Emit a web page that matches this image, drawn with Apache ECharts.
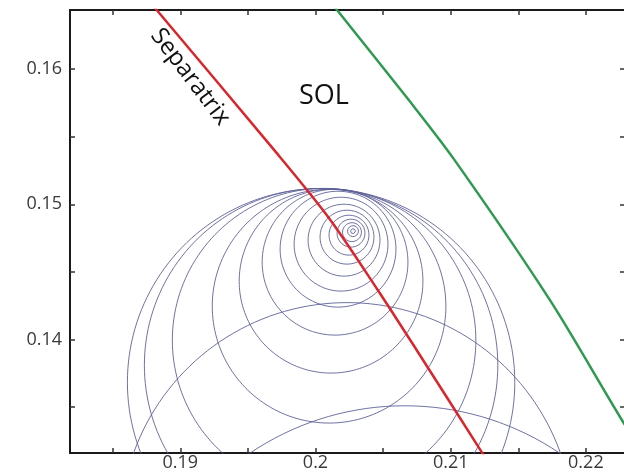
<!DOCTYPE html>
<html>
<head>
<meta charset="utf-8">
<script src="https://cdn.jsdelivr.net/npm/echarts@6/dist/echarts.min.js"></script>
<style>
html,body{margin:0;padding:0;background:#fff;}
#chart{width:624px;height:473px;}
</style>
</head>
<body>
<div id="chart"></div>
<script>
// Axis ticks and labels
const xTicks = [0.185, 0.19, 0.195, 0.2, 0.205, 0.21, 0.215, 0.22];
const xLabels = [0.19, 0.2, 0.21, 0.22];
const yTicks = [0.135, 0.14, 0.145, 0.15, 0.155, 0.16];
const yLabels = [0.14, 0.15, 0.16];

// Separatrix (red) and outer flux surface (green) traces
const sepX = [0.18700, 0.188253, 0.196950, 0.201004, 0.204616, 0.207490, 0.212355, 0.213166];
const sepY = [0.16585, 0.164366, 0.154007, 0.148975, 0.143648, 0.139208, 0.131587, 0.130329];
const wallX = [0.200414, 0.201594, 0.206901, 0.210291, 0.217345, 0.222674, 0.224591];
const wallY = [0.16585, 0.164366, 0.157706, 0.153267, 0.142908, 0.134029, 0.131069];

// Orbit circles: centre x, centre y, radius (data units)
const orbitCX = [0.202773, 0.202773, 0.202699, 0.202626, 0.202478, 0.202331, 0.202110, 0.201889, 0.201667, 0.201446, 0.201151, 0.201004, 0.200636, 0.200414, 0.200414, 0.202331, 0.206606];
const orbitCY = [0.148013, 0.148013, 0.147939, 0.147865, 0.147717, 0.147569, 0.147347, 0.147051, 0.146681, 0.145719, 0.144314, 0.142464, 0.139948, 0.136840, 0.138098, 0.125964, 0.114606];
const orbitR  = [0.000185, 0.000406, 0.000702, 0.001034, 0.001477, 0.001994, 0.002659, 0.003471, 0.004284, 0.005391, 0.006795, 0.008641, 0.011226, 0.014328, 0.013072, 0.016765, 0.020495];

function zip(a, b) { return a.map((v, i) => [v, b[i]]); }
function circlePts(cx, cy, r) {
  const pts = [];
  const n = 180;
  for (let k = 0; k <= n; k++) {
    const t = 2 * Math.PI * k / n;
    pts.push([cx + r * Math.cos(t), cy + r * Math.sin(t)]);
  }
  return pts;
}

const xMin = 0.18184, xMax = 0.22282;
const yMin = 0.131609, yMax = 0.164366;

const axisLine = { show: true, lineStyle: { color: '#1a1a1a', width: 2 } };
const tickStyle = { color: '#333', width: 1.5 };
const labelFont = { fontFamily: 'Open Sans', fontSize: 18, color: '#3a3a3a' };

const series = [];
orbitR.forEach((r, i) => {
  series.push({
    type: 'line', data: circlePts(orbitCX[i], orbitCY[i], r),
    showSymbol: false, silent: true, clip: true,
    lineStyle: { color: '#5f6399', width: 1, opacity: 0.9 }, z: 2
  });
});
series.push({
  type: 'line', data: zip(sepX, sepY), smooth: 0.3, showSymbol: false, clip: true,
  lineStyle: { color: '#d8262c', width: 2.5 }, z: 5
});
series.push({
  type: 'line', data: zip(wallX, wallY), smooth: 0.3, showSymbol: false, clip: true,
  lineStyle: { color: '#2e9a50', width: 2.5 }, z: 5
});

const chart = echarts.init(document.getElementById('chart'), null, { renderer: 'canvas' });
chart.setOption({
  animation: false,
  backgroundColor: '#fff',
  grid: { left: 70, top: 10, width: 556, height: 443, containLabel: false },
  xAxis: [
    { type: 'value', position: 'bottom', min: xMin, max: xMax, axisLine,
      splitLine: { show: false },
      axisTick: { show: true, inside: true, length: 5, lineStyle: tickStyle, customValues: xTicks },
      axisLabel: { ...labelFont, margin: 1, customValues: xLabels, formatter: v => String(+v.toFixed(3)) } },
    { type: 'value', position: 'top', min: xMin, max: xMax, axisLine,
      splitLine: { show: false },
      axisTick: { show: true, inside: true, length: 5, lineStyle: tickStyle, customValues: xTicks },
      axisLabel: { show: false } }
  ],
  yAxis: [
    { type: 'value', position: 'left', min: yMin, max: yMax, axisLine,
      splitLine: { show: false },
      axisTick: { show: true, inside: true, length: 5, lineStyle: tickStyle, customValues: yTicks },
      axisLabel: { ...labelFont, margin: 8, customValues: yLabels, formatter: v => String(+v.toFixed(3)) } },
    { type: 'value', position: 'right', min: yMin, max: yMax, axisLine: { show: false },
      splitLine: { show: false },
      axisTick: { show: true, inside: true, length: 4, lineStyle: tickStyle, customValues: yTicks },
      axisLabel: { show: false } }
  ],
  series,
  graphic: [
    { type: 'text', x: 165, y: 24, rotation: -0.92, z: 10,
      style: { text: 'Separatrix', fontFamily: 'Open Sans', fontSize: 24, fill: '#111' } },
    { type: 'text', x: 299, y: 83, z: 10,
      style: { text: 'SOL', fontFamily: 'Open Sans', fontSize: 27, fill: '#111' } }
  ]
});
</script>
</body>
</html>
